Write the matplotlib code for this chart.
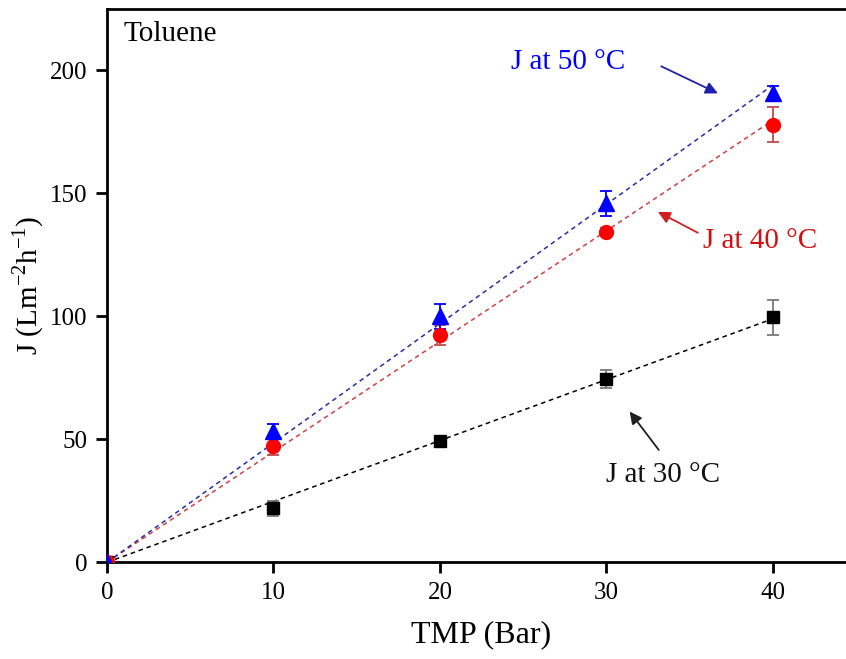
import numpy as np
import matplotlib
matplotlib.use("Agg")
import matplotlib.pyplot as plt

plt.rcParams['font.family'] = ['Liberation Serif', 'DejaVu Serif']
plt.rcParams['mathtext.fontset'] = 'custom'
plt.rcParams['mathtext.rm'] = 'Liberation Serif'

# TMP (Bar)
tmp = [0, 10, 20, 30, 40]

# flux J at each temperature and its error
j30 = [0, 22.0, 49.4, 74.5, 99.6]
j30_err = [0, 3.0, 1.5, 3.5, 7.0]
j40 = [0, 47.3, 92.5, 134.5, 178.0]
j40_err = [0, 3.5, 4.0, 1.5, 7.0]
j50 = [0, 53.3, 100.0, 146.0, 191.0]
j50_err = [0, 3.0, 5.0, 5.0, 2.5]

x_ticks = [0, 10, 20, 30, 40]
y_ticks = [0, 50, 100, 150, 200]

fig = plt.figure(figsize=(8.46, 6.59), dpi=100)
# axes runs a bit past the right edge, like the cropped original
ax = fig.add_axes([107 / 846, 1 - 562.3 / 659, 749 / 846, 553.3 / 659])

x = np.array(tmp, dtype=float)
xfit = np.array([0, 40.0])

series = [
    (j30, j30_err, 's', 9, 'black', '#7a7a7a', 'black'),
    (j40, j40_err, 'o', 10, 'red', '#c04a4a', '#d04040'),
    (j50, j50_err, '^', 11, 'blue', 'blue', '#2a2aa8'),
]
for y, err, mk, ms, col, ecol, lcol in series:
    y = np.array(y)
    # linear fit through the origin
    slope = np.sum(x * y) / np.sum(x * x)
    ax.plot(xfit, slope * xfit, ls=(0, (3, 2.5)), color=lcol, lw=1.1, zorder=2)
    ax.errorbar(x, y, yerr=err, fmt=mk, ms=ms, color=col, mec=col,
                ecolor=ecol, elinewidth=1.3, capsize=4.5, capthick=1.3,
                zorder=3)

ax.set_xlim(0, 45)
ax.set_ylim(0, 225)
ax.set_xticks(x_ticks)
ax.set_yticks(y_ticks)
ax.tick_params(direction='out', length=8, width=2, labelsize=18)
ax.tick_params(axis='x', pad=6)
ax.tick_params(axis='y', pad=6)
for s in ax.spines.values():
    s.set_linewidth(2)

ax.set_xlabel('TMP (Bar)', fontsize=23, labelpad=12)
ax.set_ylabel(r'J (Lm$^{\mathregular{-2}}$h$^{\mathregular{-1}}$)', fontsize=21, labelpad=3)

ax.text(1.0, 214.7, 'Toluene', fontsize=21, va='center', ha='left')

arrow = dict(arrowstyle='-|>', lw=1.3, shrinkA=0, shrinkB=0, mutation_scale=18)

ax.text(24.3, 203.3, 'J at 50 °C', color='blue', fontsize=21,
        va='center', ha='left')
ax.annotate('', xy=(36.7, 190.7), xytext=(33.3, 201.7),
            arrowprops=dict(arrow, color='#2020b0'))

ax.text(35.8, 130.5, 'J at 40 °C', color='#d01010', fontsize=21,
        va='center', ha='left')
ax.annotate('', xy=(33.1, 142.5), xytext=(35.5, 134.0),
            arrowprops=dict(arrow, color='#d02020'))

ax.text(30.0, 35.5, 'J at 30 °C', color='#111111', fontsize=21,
        va='center', ha='left')
ax.annotate('', xy=(31.4, 61.3), xytext=(33.15, 45.7),
            arrowprops=dict(arrow, color='#202020'))

fig.savefig('out.png', dpi=100)
